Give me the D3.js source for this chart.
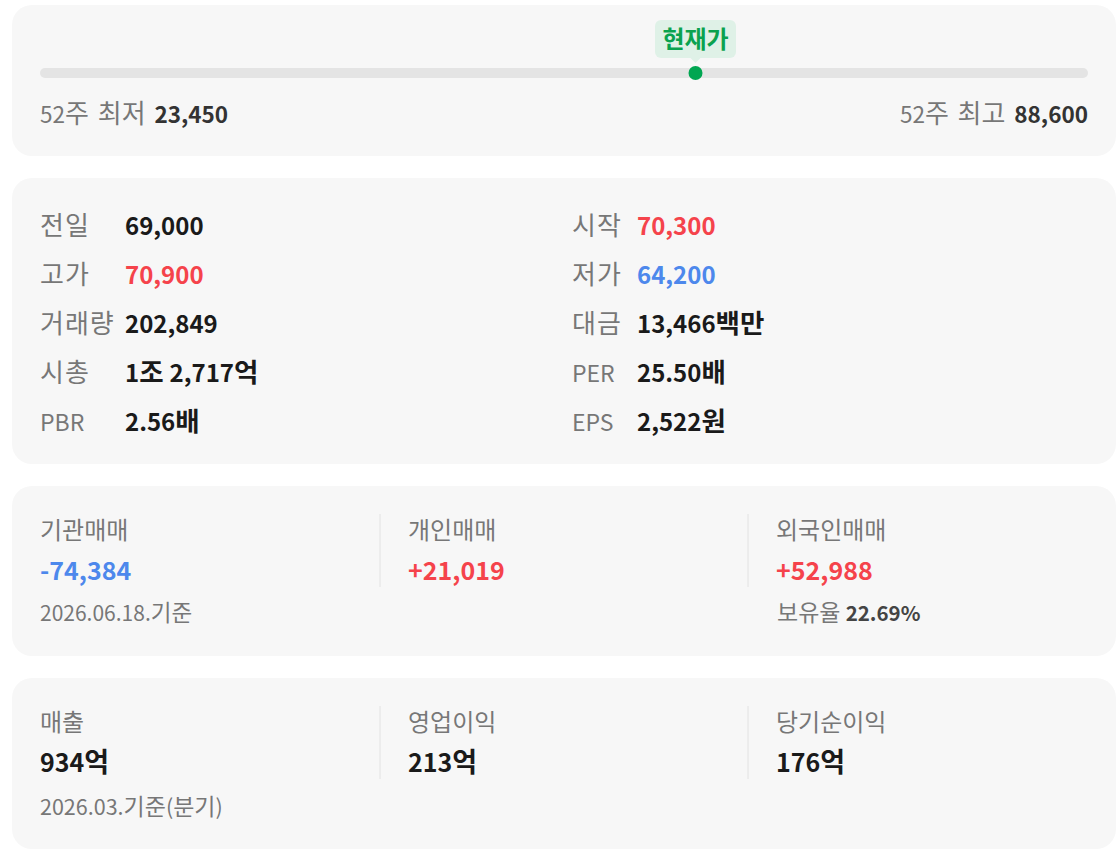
<!DOCTYPE html>
<html>
<head>
<meta charset="utf-8">
<script src="https://cdn.jsdelivr.net/npm/d3@7"></script>
<style>
  body { margin: 0; background: #fff; }
  svg { display: block; font-family: "Noto Sans CJK KR", "Noto Sans", sans-serif; }
  .lbl { fill: #777; }
  .val { fill: #1a1a1a; font-weight: 700; }
  .up { fill: #f5434b; }
  .down { fill: #4d88ec; }
</style>
</head>
<body>
<svg width="1120" height="860"></svg>
<script>
// 52-week range
var rangeLow = 23450;
var rangeHigh = 88600;
var currentPrice = 64200;

// quote table
var prevClose = 69000;
var leftLabels = ['전일', '고가', '거래량', '시총', 'PBR'];
var leftValues = ['69,000', '70,900', '202,849', '1조 2,717억', '2.56배'];
var leftPrices = [null, 70900, null, null, null];
var rightLabels = ['시작', '저가', '대금', 'PER', 'EPS'];
var rightValues = ['70,300', '64,200', '13,466백만', '25.50배', '2,522원'];
var rightPrices = [70300, 64200, null, null, null];

// investor trading
var investorLabels = ['기관매매', '개인매매', '외국인매매'];
var investorNet = [-74384, 21019, 52988];
var investorDate = '2026.06.18.기준';
var foreignRatio = '22.69%';

// financials
var finLabels = ['매출', '영업이익', '당기순이익'];
var finValues = [934, 213, 176];
var finDate = '2026.03.기준(분기)';

var svg = d3.select('svg');
var locale = d3.formatLocale({ decimal: '.', thousands: ',', grouping: [3], currency: ['', ''], minus: '-' });
var fmtSigned = locale.format('+,');
var fmtInt = locale.format(',');

function tone(p) {
  if (p == null) return '';
  return p > prevClose ? 'up' : (p < prevClose ? 'down' : '');
}

// hangul is drawn a bit larger than digits/latin, like the original font
function runs(textSel, str, size, hsize) {
  str.split(/([가-힣 ]+)/).filter(s => s.length).forEach(function (s) {
    textSel.append('tspan')
      .attr('font-size', /[가-힣 ]/.test(s) ? hsize : size)
      .text(s);
  });
  return textSel;
}

// cards
var cards = [[5, 156], [178, 464], [486, 656], [678, 849]];
svg.selectAll('rect.card')
  .data(cards)
  .enter()
  .append('rect')
  .attr('class', 'card')
  .attr('x', 12)
  .attr('y', d => d[0])
  .attr('width', 1104)
  .attr('height', d => d[1] - d[0])
  .attr('rx', 20)
  .attr('fill', '#f7f7f7');

// ---- card 1: slider ----
var xRange = d3.scaleLinear().domain([rangeLow, rangeHigh]).range([40, 1088]);

svg.append('rect')
  .attr('x', xRange(rangeLow))
  .attr('y', 68)
  .attr('width', xRange(rangeHigh) - xRange(rangeLow))
  .attr('height', 10)
  .attr('rx', 5)
  .attr('fill', '#e4e4e4');

var cx = xRange(currentPrice);
var tip = svg.append('g').attr('transform', 'translate(' + cx + ',0)');
tip.append('rect')
  .attr('x', -40.5)
  .attr('y', 20)
  .attr('width', 81)
  .attr('height', 38)
  .attr('rx', 6)
  .attr('fill', '#dff1e7');
tip.append('path')
  .attr('d', 'M-6,57 L0,63 L6,57 Z')
  .attr('fill', '#dff1e7');
tip.append('text')
  .attr('x', 0)
  .attr('y', 48)
  .attr('text-anchor', 'middle')
  .attr('font-size', 24)
  .attr('font-weight', 700)
  .attr('fill', '#0aa24f')
  .text('현재가');
svg.append('circle')
  .attr('cx', cx)
  .attr('cy', 73)
  .attr('r', 7)
  .attr('fill', '#00a651');

var lowText = svg.append('text').attr('x', xRange(rangeLow)).attr('y', 123).attr('word-spacing', 3);
runs(lowText.append('tspan').attr('class', 'lbl'), '52주 최저 ', 22.5, 26);
lowText.append('tspan').attr('fill', '#333').attr('font-weight', 700).attr('font-size', 22.5).text(fmtInt(rangeLow));

var highText = svg.append('text').attr('x', xRange(rangeHigh)).attr('y', 123)
  .attr('text-anchor', 'end').attr('word-spacing', 3);
runs(highText.append('tspan').attr('class', 'lbl'), '52주 최고 ', 22.5, 26);
highText.append('tspan').attr('fill', '#333').attr('font-weight', 700).attr('font-size', 22.5).text(fmtInt(rangeHigh));

// ---- card 2: quote table ----
var rowY = d3.scalePoint().domain(d3.range(leftLabels.length)).range([235, 431]);

function quoteColumn(labels, values, prices, lx, vx) {
  var g = svg.append('g');
  g.selectAll('text.lbl')
    .data(labels)
    .enter()
    .append('text')
    .attr('class', 'lbl')
    .attr('x', lx)
    .attr('y', (d, i) => rowY(i))
    .attr('letter-spacing', d => /[가-힣]/.test(d) ? 1 : 0)
    .each(function (d) { runs(d3.select(this), d, 23, 26); });
  g.selectAll('text.val')
    .data(values)
    .enter()
    .append('text')
    .attr('class', (d, i) => 'val ' + tone(prices[i]))
    .attr('x', vx)
    .attr('y', (d, i) => rowY(i))
    .each(function (d) { runs(d3.select(this), d, 24, 26.5); });
}
quoteColumn(leftLabels, leftValues, leftPrices, 40, 125);
quoteColumn(rightLabels, rightValues, rightPrices, 572, 637);

// ---- card 3 & 4: three-column blocks ----
var col = d3.scaleBand().domain([0, 1, 2]).range([12, 1116]);
var colX = i => col(i) + 29;

function dividers(y1, y2) {
  svg.selectAll(null)
    .data([1, 2])
    .enter()
    .append('line')
    .attr('x1', d => col(d))
    .attr('x2', d => col(d))
    .attr('y1', y1)
    .attr('y2', y2)
    .attr('stroke', '#e2e2e2')
    .attr('stroke-width', 1);
}

// investors
dividers(514, 587);
svg.selectAll(null)
  .data(investorLabels)
  .enter()
  .append('text')
  .attr('class', 'lbl')
  .attr('x', (d, i) => colX(i) - 1)
  .attr('y', 539)
  .attr('font-size', 24)
  .text(d => d);
svg.selectAll(null)
  .data(investorNet)
  .enter()
  .append('text')
  .attr('class', d => 'val ' + (d > 0 ? 'up' : 'down'))
  .attr('x', (d, i) => colX(i) - 1)
  .attr('y', 580)
  .attr('font-size', 25)
  .text(d => fmtSigned(d));
var dateText = svg.append('text').attr('class', 'lbl').attr('x', colX(0) - 1).attr('y', 621);
runs(dateText, investorDate, 21, 22.5);
var ratio = svg.append('text').attr('x', colX(2)).attr('y', 621);
runs(ratio.append('tspan').attr('class', 'lbl'), '보유율 ', 20.5, 23);
ratio.append('tspan').attr('fill', '#444').attr('font-weight', 700).attr('font-size', 20.5).text(foreignRatio);

// financials
dividers(706, 779);
svg.selectAll(null)
  .data(finLabels)
  .enter()
  .append('text')
  .attr('class', 'lbl')
  .attr('x', (d, i) => colX(i) - 1)
  .attr('y', 731)
  .attr('font-size', 24)
  .text(d => d);
svg.selectAll(null)
  .data(finValues)
  .enter()
  .append('text')
  .attr('class', 'val')
  .attr('x', (d, i) => colX(i) - 1)
  .attr('y', 772)
  .each(function (d) { runs(d3.select(this), fmtInt(d) + '억', 25, 27); });
var finText = svg.append('text').attr('class', 'lbl').attr('x', colX(0) - 1).attr('y', 815);
runs(finText, finDate, 21.5, 23);
</script>
</body>
</html>
